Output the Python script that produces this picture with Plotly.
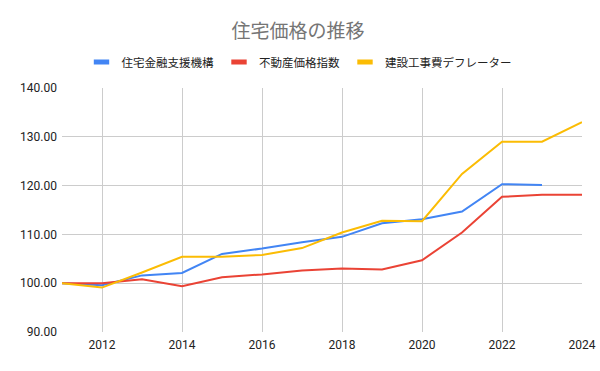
import plotly.graph_objects as go

years = list(range(2011, 2025))
jhf = [100.0, 99.6, 101.6, 102.1, 106.0, 107.1, 108.4, 109.5, 112.3, 113.1, 114.7, 120.3, 120.1, None]
reppi = [100.0, 100.0, 100.8, 99.4, 101.2, 101.8, 102.6, 103.0, 102.8, 104.7, 110.4, 117.7, 118.1, 118.1]
deflator = [100.0, 99.1, 102.2, 105.4, 105.4, 105.8, 107.2, 110.4, 112.8, 112.7, 122.4, 129.0, 129.0, 133.0]
names = ["住宅金融支援機構", "不動産価格指数", "建設工事費デフレーター"]
colors = ["#4285F4", "#EA4335", "#FBBC04"]
yticks = [90, 100, 110, 120, 130, 140]
xticks = list(range(2012, 2025, 2))

fig = go.Figure()
for name, vals, c in zip(names, [jhf, reppi, deflator], colors):
    fig.add_trace(go.Scatter(x=years, y=vals, name=name, mode="lines",
                             line=dict(color=c, width=2), connectgaps=False,
                             showlegend=False, cliponaxis=False))
for name, c in zip(names, colors):
    fig.add_trace(go.Scatter(x=[None], y=[None], name=name, mode="markers",
                             marker=dict(symbol="line-ew", size=11, color=c,
                                         line=dict(color=c, width=5))))

font = "Roboto, 'Noto Sans CJK JP', sans-serif"
fig.update_layout(
    width=600, height=371,
    margin=dict(l=62, r=18, t=88, b=39, autoexpand=False),
    paper_bgcolor="white", plot_bgcolor="white",
    font=dict(family=font, size=12, color="#222222"),
    title=dict(text="住宅価格の推移", x=298 / 600, xanchor="center", xref="container",
               y=1 - 31.5 / 371, yanchor="middle", yref="container",
               font=dict(size=19, color="#757575", family=font)),
    legend=dict(orientation="h", x=299 / 600, xanchor="center", xref="container",
                y=1 - 62 / 371, yanchor="middle", yref="container",
                font=dict(size=11.5, color="#222222"), itemwidth=30,
                tracegroupgap=0),
    showlegend=True,
)
fig.update_xaxes(range=[2011, 2024], tickvals=xticks, ticktext=[str(v) for v in xticks],
                 showgrid=True, gridcolor="#cccccc", gridwidth=1, zeroline=False,
                 showline=False, ticks="", tickfont=dict(size=12, color="#222222"),
                 ticklabelstandoff=4, automargin=False)
fig.update_yaxes(range=[90, 140], tickvals=yticks, ticktext=[f"{v:.2f}" for v in yticks],
                 showgrid=True, gridcolor="#cccccc", gridwidth=1, zeroline=False,
                 showline=False, ticks="", tickfont=dict(size=12, color="#222222"),
                 ticklabelstandoff=4, automargin=False)

fig.write_html("out.html", config={"displayModeBar": False},
               post_script="document.body.style.margin='0';")
